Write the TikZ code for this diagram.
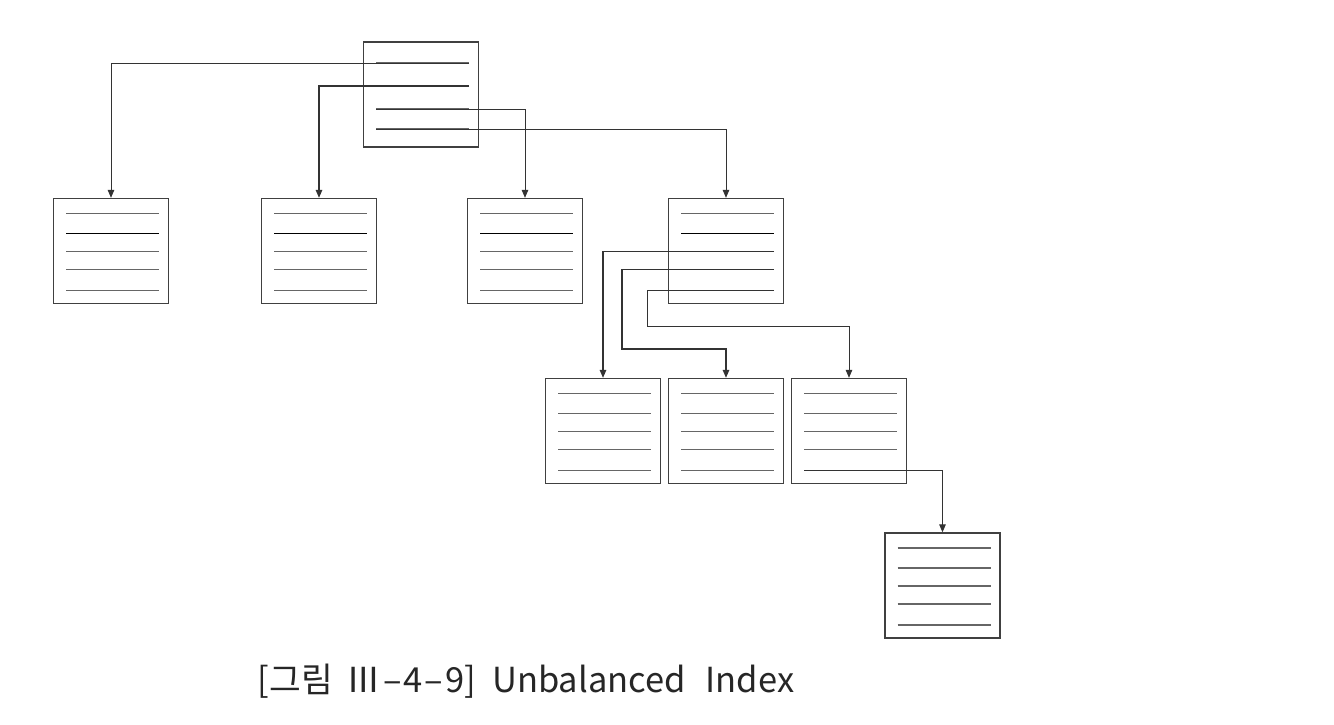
\documentclass[tikz,border=0pt]{standalone}
\usepackage{fontspec}
\setmainfont{Noto Sans CJK KR}
\usepackage{tikz}
\usetikzlibrary{arrows.meta,positioning}

\tikzset{
  page/.style={draw=black!75,line width=1.3pt,minimum width=115pt,minimum height=105pt,inner sep=0pt},
  entry/.style={draw=black!60,line width=1.2pt},
  keyline/.style={draw=black,line width=1.5pt},
  ptr/.style={draw=black!80,line width=1pt,-{Triangle[length=8pt,width=6.5pt]}}
}
% five (or four) index lines inside one page node
\newcommand{\pagelines}[2]{%
  \foreach \ly [count=\i] in {#2} {
    \coordinate (#1-\i w) at ([shift={(-45pt,\ly pt)}]#1.center);
    \coordinate (#1-\i e) at ([shift={(48pt,\ly pt)}]#1.center);
    \draw[entry] (#1-\i w) -- (#1-\i e);
  }}

\begin{document}
\begin{tikzpicture}[x=1pt,y=1pt,node distance=100pt,on grid]
    \useasboundingbox (0,0) rectangle (1334,-724);
    \node[page] (root) at (421,-94.5)             {};
    \node[page] (c1)   at (111,-251)              {};
    \node[page] (c2)   [right=208pt of c1]        {};
    \node[page] (c3)   [right=206pt of c2]        {};
    \node[page] (c4)   [right=201pt of c3]        {};
    \node[page] (d2)   [below=180pt of c4]        {};
    \node[page] (d1)   [left=123pt of d2]         {};
    \node[page] (d3)   [right=123pt of d2]        {};
    \node[page] (e1)   [below right=154.5pt and 93.5pt of d3] {};
    % lines in the pages
    \pagelines{root}{31.5,8.5,-14.5,-34.5}
    \foreach \p in {c1,c2,c3,c4,d1,d2,d3,e1}
      {\pagelines{\p}{37.5,17.5,-0.5,-18.5,-39.5}}
    \foreach \p in {c1,c2,c3,c4}
      {\draw[keyline] (\p-2w) -- (\p-2e);}
    % root pointers
    \draw[ptr] (root-1e) -| (c1.north);
    \draw[ptr,line width=1.4pt] (root-2e) -| (c2.north);
    \draw[ptr] (root-3w) -| (c3.north);
    \draw[ptr] (root-4w) -| (c4.north);
    % pointers of the fourth page
    \draw[ptr,line width=1.3pt] (c4-3e) -| (d1.north);
    \draw[ptr,line width=1.4pt] (c4-4e) -- ++(-152,0) |- ([yshift=29pt]d2.north) -- (d2.north);
    \draw[ptr] (c4-5e) -- ++(-127,0) |- ([yshift=51pt]d3.north) -- (d3.north);
    % one more level
    \draw[ptr] (d3-5w) -| (e1.north);
    \node[text=black!85,font=\fontsize{34.5}{40}\selectfont] (caption) at (526,-681)
      {[그림\hspace{14pt}Ⅲ\kern2pt–\kern2pt4\kern2pt–\kern2pt9]\hspace{16pt}Unbalanced\hspace{20pt}Index};
\end{tikzpicture}
\end{document}
